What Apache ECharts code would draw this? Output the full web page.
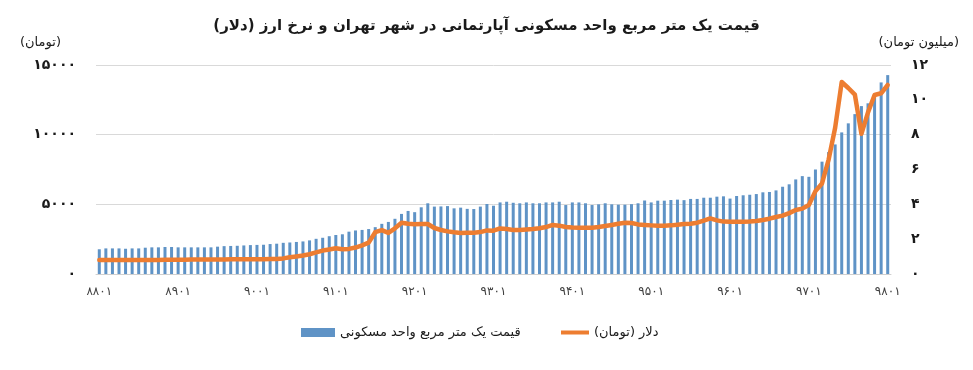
<!DOCTYPE html>
<html>
<head>
<meta charset="utf-8">
<script src="https://cdn.jsdelivr.net/npm/echarts@6/dist/echarts.min.js"></script>
<style>
html,body{margin:0;padding:0;background:#fff;}
#c{width:973px;height:370px;}
</style>
</head>
<body>
<div id="c"></div>
<script>
// Persian year prefixes (88..98) and months
var years = ['88','89','90','91','92','93','94','95','96','97','98'];
var months = ['01','02','03','04','05','06','07','08','09','10','11','12'];

// Price of one square metre of residential apartment (million toman, right axis)
var housePrice = [
  1.42,1.47,1.47,1.47,1.45,1.47,1.47,1.51,1.53,1.53,1.55,1.55,
  1.53,1.53,1.53,1.53,1.53,1.53,1.57,1.60,1.61,1.62,1.64,1.66,
  1.67,1.68,1.72,1.74,1.79,1.81,1.84,1.87,1.93,2.02,2.08,2.17,
  2.24,2.28,2.43,2.50,2.53,2.58,2.69,2.88,2.99,3.17,3.45,3.62,
  3.55,3.83,4.06,3.87,3.88,3.90,3.77,3.81,3.74,3.73,3.87,4.02,
  3.92,4.11,4.15,4.09,4.06,4.11,4.06,4.06,4.11,4.11,4.15,3.96,
  4.11,4.11,4.06,3.96,4.00,4.06,4.00,3.98,3.98,4.01,4.06,4.22,
  4.11,4.21,4.21,4.25,4.27,4.24,4.31,4.31,4.38,4.38,4.44,4.46,
  4.33,4.48,4.52,4.55,4.59,4.69,4.71,4.80,5.01,5.15,5.43,5.62,
  5.58,6.00,6.45,7.00,7.44,8.13,8.65,9.18,9.64,9.80,10.31,11.00,
  11.42
];

// Dollar rate (toman, left axis)
var dollar = [
  1000,1000,1005,1005,1005,1010,1010,1010,1010,1010,1015,1015,
  1030,1030,1040,1040,1040,1040,1045,1045,1050,1050,1050,1050,
  1060,1060,1070,1080,1120,1200,1260,1330,1420,1550,1680,1760,
  1850,1780,1800,1900,2050,2250,3000,3150,2950,3280,3680,3600,
  3570,3590,3590,3300,3160,3060,2990,2940,2960,2960,3010,3130,
  3110,3270,3230,3160,3160,3200,3230,3280,3370,3520,3470,3370,
  3330,3320,3320,3320,3370,3440,3520,3610,3680,3660,3560,3520,
  3490,3470,3470,3490,3540,3590,3610,3680,3830,3990,3850,3760,
  3756,3756,3756,3760,3800,3876,3970,4090,4190,4370,4590,4690,
  4950,5950,6500,8200,10500,13780,13350,12870,10060,11600,12850,12970,
  13565
];

var leftTicks = [0, 5000, 10000, 15000];
var rightTicks = [0, 2, 4, 6, 8, 10, 12];

var categories = [];
for (var y = 0; y < years.length; y++) {
  for (var m = 0; m < months.length; m++) {
    if (categories.length < housePrice.length) categories.push(years[y] + months[m]);
  }
}

function fa(s) {
  return String(s).replace(/[0-9]/g, function (d) { return '۰۱۲۳۴۵۶۷۸۹'[+d]; });
}

var FONT = 'DejaVu Sans';
var BAR_NAME = 'قیمت یک متر مربع واحد مسکونی';
var LINE_NAME = 'دلار (تومان)';
var chart = echarts.init(document.getElementById('c'), null, {renderer: 'canvas'});
chart.setOption({
  animation: false,
  backgroundColor: '#ffffff',
  textStyle: {fontFamily: FONT},
  title: {
    text: 'قیمت یک متر مربع واحد مسکونی آپارتمانی در شهر تهران و نرخ ارز (دلار)',
    left: 'center',
    top: 14,
    textStyle: {fontFamily: FONT, fontSize: 15, fontWeight: 'bold', color: '#1a1a1a'}
  },
  graphic: [
    {type: 'text', left: 20, top: 36, style: {text: '(تومان)', fontFamily: FONT, fontSize: 13, fill: '#1a1a1a'}},
    {type: 'text', right: 14, top: 36, style: {text: '(میلیون تومان)', fontFamily: FONT, fontSize: 13, fill: '#1a1a1a'}}
  ],
  legend: [
    {
      top: 321,
      left: 296,
      itemWidth: 34,
      itemHeight: 9,
      itemGap: 6,
      textStyle: {fontFamily: FONT, fontSize: 13, color: '#1a1a1a'},
      data: [{name: BAR_NAME, icon: 'rect'}]
    },
    {
      top: 321,
      left: 556,
      itemWidth: 28,
      itemHeight: 4,
      textStyle: {fontFamily: FONT, fontSize: 13, color: '#1a1a1a', padding: [0, 0, 0, 0]},
      data: [{name: LINE_NAME, icon: 'rect'}]
    }
  ],
  grid: {left: 96, right: 82, top: 65, bottom: 96, containLabel: false},
  xAxis: {
    type: 'category',
    data: categories,
    boundaryGap: true,
    axisLine: {show: true, lineStyle: {color: '#d0d0d0'}},
    axisTick: {show: false},
    axisLabel: {
      interval: 11,
      margin: 12,
      fontFamily: FONT,
      fontSize: 12,
      color: '#404040',
      formatter: function (v) { return fa(v); }
    }
  },
  yAxis: [
    {
      type: 'value',
      min: 0, max: 15000, interval: 5000,
      position: 'left',
      axisLine: {show: false},
      axisTick: {show: false},
      splitLine: {show: true, lineStyle: {color: '#d9d9d9', width: 1}},
      axisLabel: {
        margin: 20, fontFamily: FONT, fontSize: 14, fontWeight: 'bold', color: '#1a1a1a',
        formatter: function (v) { return leftTicks.indexOf(v) >= 0 ? fa(v) : ''; }
      }
    },
    {
      type: 'value',
      min: 0, max: 12, interval: 2,
      position: 'right',
      axisLine: {show: false},
      axisTick: {show: false},
      splitLine: {show: false},
      axisLabel: {
        margin: 20, fontFamily: FONT, fontSize: 14, fontWeight: 'bold', color: '#1a1a1a',
        formatter: function (v) { return rightTicks.indexOf(v) >= 0 ? fa(v) : ''; }
      }
    }
  ],
  series: [
    {
      name: BAR_NAME,
      type: 'bar',
      yAxisIndex: 1,
      data: housePrice,
      barWidth: 3,
      itemStyle: {color: '#5f93c6'},
      z: 2
    },
    {
      name: LINE_NAME,
      type: 'line',
      yAxisIndex: 0,
      data: dollar,
      symbol: 'none',
      showSymbol: false,
      smooth: false,
      lineStyle: {color: '#ed7d31', width: 4.5, join: 'round', cap: 'round'},
      itemStyle: {color: '#ed7d31'},
      z: 3
    }
  ]
});
</script>
</body>
</html>
